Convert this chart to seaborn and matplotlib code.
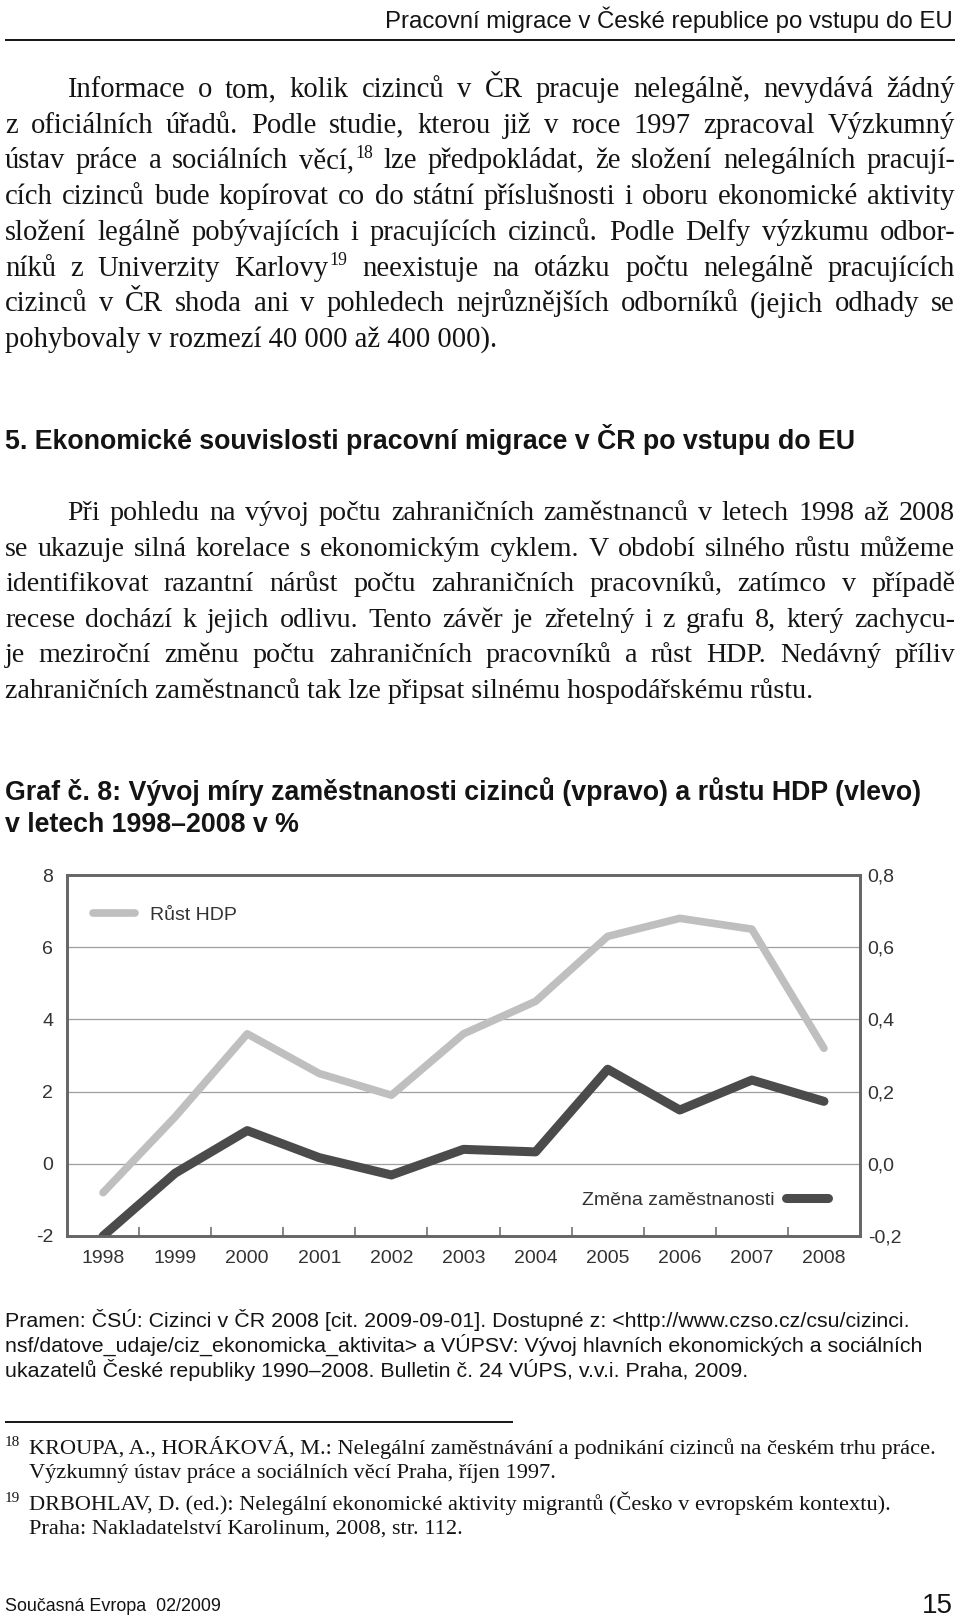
import matplotlib
matplotlib.use('Agg')
import matplotlib.pyplot as plt
from matplotlib import font_manager
import seaborn as sns

# Graf c. 8
roky = [1998, 1999, 2000, 2001, 2002, 2003, 2004, 2005, 2006, 2007, 2008]
rust_hdp = [-0.8, 1.3, 3.6, 2.5, 1.9, 3.6, 4.5, 6.3, 6.8, 6.5, 3.2]
zmena_zam = [-0.200, -0.026, 0.092, 0.017, -0.031, 0.040, 0.033, 0.262, 0.149, 0.232, 0.173]
osa_vlevo = [-2, 0, 2, 4, 6, 8]
osa_vpravo = [-0.2, 0.0, 0.2, 0.4, 0.6, 0.8]
popisky_vpravo = ['-0,2', '0,0', '0,2', '0,4', '0,6', '0,8']

# texty stranky
zahlavi = 'Pracovní migrace v České republice po vstupu do EU'
odstavec1 = [
    'Informace o tom, kolik cizinců v ČR pracuje nelegálně, nevydává žádný',
    'z oficiálních úřadů. Podle studie, kterou již v roce 1997 zpracoval Výzkumný',
    'ústav práce a sociálních věcí,^18 lze předpokládat, že složení nelegálních pracují-',
    'cích cizinců bude kopírovat co do státní příslušnosti i oboru ekonomické aktivity',
    'složení legálně pobývajících i pracujících cizinců. Podle Delfy výzkumu odbor-',
    'níků z Univerzity Karlovy^19 neexistuje na otázku počtu nelegálně pracujících',
    'cizinců v ČR shoda ani v pohledech nejrůznějších odborníků (jejich odhady se',
    'pohybovaly v rozmezí 40\u00a0000 až 400\u00a0000).',
]
nadpis = '5. Ekonomické souvislosti pracovní migrace v ČR po vstupu do EU'
odstavec2 = [
    'Při pohledu na vývoj počtu zahraničních zaměstnanců v letech 1998 až 2008',
    'se ukazuje silná korelace s ekonomickým cyklem. V období silného růstu můžeme',
    'identifikovat razantní nárůst počtu zahraničních pracovníků, zatímco v případě',
    'recese dochází k jejich odlivu. Tento závěr je zřetelný i z grafu 8, který zachycu-',
    'je meziroční změnu počtu zahraničních pracovníků a růst HDP. Nedávný příliv',
    'zahraničních zaměstnanců tak lze připsat silnému hospodářskému růstu.',
]
graf_nadpis = ['Graf č. 8: Vývoj míry zaměstnanosti cizinců (vpravo) a růstu HDP (vlevo)',
               'v letech 1998–2008 v %']
pramen = [
    'Pramen: ČSÚ: Cizinci v ČR 2008 [cit. 2009-09-01]. Dostupné z: <http://www.czso.cz/csu/cizinci.',
    'nsf/datove_udaje/ciz_ekonomicka_aktivita> a VÚPSV: Vývoj hlavních ekonomických a sociálních',
    'ukazatelů České republiky 1990–2008. Bulletin č. 24 VÚPS, v.v.i. Praha, 2009.',
]
poznamky = [
    ('18', 'KROUPA, A., HORÁKOVÁ, M.: Nelegální zaměstnávání a podnikání cizinců na českém trhu práce.'),
    ('', 'Výzkumný ústav práce a sociálních věcí Praha, říjen 1997.'),
    ('19', 'DRBOHLAV, D. (ed.): Nelegální ekonomické aktivity migrantů (Česko v evropském kontextu).'),
    ('', 'Praha: Nakladatelství Karolinum, 2008, str. 112.'),
]
paticka = 'Současná Evropa  02/2009'
strana = '15'

sns.set_theme(style='white')
fams = {f.name for f in font_manager.fontManager.ttflist}
SANS = 'Liberation Sans Narrow' if 'Liberation Sans Narrow' in fams else 'Liberation Sans'
SERIF = 'Liberation Serif'
plt.rcParams['font.family'] = ['Liberation Sans', 'DejaVu Sans']
INK = '#141414'

fig = plt.figure(figsize=(9.6, 16.21), dpi=100)
page = fig.add_axes([0, 0, 1, 1])
page.set_xlim(0, 960)
page.set_ylim(1621, 0)
page.axis('off')
R = fig.canvas.get_renderer()


def sirka(t):
    return t.get_window_extent(R).width


def napasuj(t, w):
    # zmensi/zvetsi pismo, aby text mel danou sirku
    t.set_fontsize(t.get_fontsize() * w / sirka(t))
    return t.get_fontsize()


def velikost(radky, prvni_odsazeni, size=17.5):
    # najde velikost pisma, pri ktere se nejtesnejsi radek jeste vejde
    f = 10.0
    for i, s in enumerate(radky[:-1]):
        t = page.text(0, 0, s.replace('^', ''), fontsize=size, family=SERIF)
        cil = 955 - (67 if (i == 0 and prvni_odsazeni) else 5)
        f = min(f, cil / sirka(t))
        t.remove()
    return size * f * 0.975


def radek(y, s, x0, x1, size):
    # do bloku zarovnany radek, ^ oznacuje horni index
    kusy = []
    for w in s.split(' '):
        hl, _, hor = w.partition('^')
        t = page.text(0, y, hl, fontsize=size, family=SERIF, color=INK, va='baseline')
        w1 = sirka(t)
        st, w2 = None, 0
        if hor:
            st = page.text(0, y - size * 0.5, hor, fontsize=size * 0.62, family=SERIF,
                           color=INK, va='baseline')
            w2 = sirka(st) + 1
        kusy.append((t, st, w1, w2))
    mezera = (x1 - x0 - sum(k[2] + k[3] for k in kusy)) / (len(kusy) - 1)
    x = x0
    for t, st, w1, w2 in kusy:
        t.set_x(x)
        if st is not None:
            st.set_x(x + w1 + 1)
        x += w1 + w2 + mezera


def odstavec(radky, y0, krok):
    vel = velikost(radky, True)
    for i, s in enumerate(radky):
        y = y0 + i * krok
        x0 = 67 if i == 0 else 5
        if i == len(radky) - 1:
            page.text(x0, y, s, fontsize=vel, family=SERIF, color=INK, va='baseline')
        else:
            radek(y, s, x0, 955, vel)


# zahlavi
t = page.text(953, 28, zahlavi, fontsize=15, family=SANS, color=INK, ha='right', va='baseline')
napasuj(t, 569)
page.hlines(40, 5, 955, color=INK, lw=1.4)

odstavec(odstavec1, 97, 35.7)

t = page.text(5, 449, nadpis, fontsize=16, family=SANS, weight='bold', color=INK, va='baseline')
napasuj(t, 850)

odstavec(odstavec2, 520, 35.6)

t = page.text(5, 800, graf_nadpis[0], fontsize=16, family=SANS, weight='bold', color=INK, va='baseline')
vg = napasuj(t, 917)
page.text(5, 832, graf_nadpis[1], fontsize=vg, family=SANS, weight='bold', color=INK, va='baseline')

# graf
ax = fig.add_axes([67 / 960, (1621 - 1236) / 1621, 793 / 960, 361 / 1621])
ax2 = ax.twinx()
sns.lineplot(x=roky, y=rust_hdp, ax=ax, color='#bfbfbf', lw=5.5, solid_capstyle='round',
             solid_joinstyle='round', label='Růst HDP', legend=False)
sns.lineplot(x=roky, y=zmena_zam, ax=ax2, color='#4b4b4b', lw=6.5, solid_capstyle='round',
             solid_joinstyle='round', label='Změna zaměstnanosti', legend=False)

ax.set_xlim(roky[0] - 0.5, roky[-1] + 0.5)
ax.set_ylim(osa_vlevo[0], osa_vlevo[-1])
ax2.set_ylim(osa_vpravo[0], osa_vpravo[-1])
ax.set_xticks(roky)
ax.set_xticklabels([str(r) for r in roky])
ax.set_xticks([r + 0.5 for r in roky[:-1]], minor=True)
ax.set_yticks(osa_vlevo)
ax.set_yticklabels([str(v) for v in osa_vlevo])
ax2.set_yticks(osa_vpravo)
ax2.set_yticklabels(popisky_vpravo)
ax.set_xlabel('')
ax.set_ylabel('')
ax2.set_ylabel('')

ax.set_axisbelow(True)
ax.grid(axis='y', color='#9e9e9e', lw=0.9)
ax.grid(axis='x', visible=False)
ax2.grid(False)
for a in (ax, ax2):
    for sp in a.spines.values():
        sp.set_color('#666666')
        sp.set_linewidth(1.9)
ax.tick_params(axis='x', which='major', length=0, pad=10, labelsize=14, labelcolor='#333333')
ax.tick_params(axis='x', which='minor', direction='in', length=6.5, width=1.1, color='#666666', bottom=True)
ax.tick_params(axis='y', length=0, pad=10, labelsize=14, labelcolor='#333333')
ax2.tick_params(axis='y', length=0, pad=5.5, labelsize=14, labelcolor='#333333')

h1 = ax.get_lines()[0]
h2 = ax2.get_lines()[0]
leg1 = ax2.legend([h1], ['Růst HDP'], loc='center left', bbox_to_anchor=(0.0328, 0.89),
                  frameon=False, fontsize=14, handlelength=2.16, handletextpad=0.75,
                  borderpad=0, borderaxespad=0, labelcolor='#333333')
ax2.add_artist(leg1)
ax2.legend([h2], ['Změna zaměstnanosti'], loc='center right', bbox_to_anchor=(0.9597, 0.0997),
           frameon=False, fontsize=14, handlelength=2.16, handletextpad=0.6, markerfirst=False,
           borderpad=0, borderaxespad=0, labelcolor='#333333')

# pramen
t = page.text(5, 1327, pramen[0], fontsize=13, family=SANS, color=INK, va='baseline')
vp = napasuj(t, 901)
page.text(5, 1352, pramen[1], fontsize=vp, family=SANS, color=INK, va='baseline')
page.text(5, 1377, pramen[2], fontsize=vp, family=SANS, color=INK, va='baseline')

# poznamky pod carou
page.hlines(1422, 5, 513, color=INK, lw=1.4)
vpc = None
for i, (c, s) in enumerate(poznamky):
    y = [1454, 1478, 1510, 1534][i]
    t = page.text(29, y, s, fontsize=vpc or 14, family=SERIF, color=INK, va='baseline')
    if vpc is None:
        vpc = napasuj(t, 908)
    if c:
        page.text(5, y - vpc * 0.5, c, fontsize=vpc * 0.68, family=SERIF, color=INK, va='baseline')

t = page.text(5, 1611, paticka, fontsize=13, family=SANS, color=INK, va='baseline')
napasuj(t, 215)
page.text(953, 1613, strana, fontsize=20, family=SANS, color=INK, ha='right', va='baseline')

fig.savefig('out.png', dpi=100, facecolor='white')
